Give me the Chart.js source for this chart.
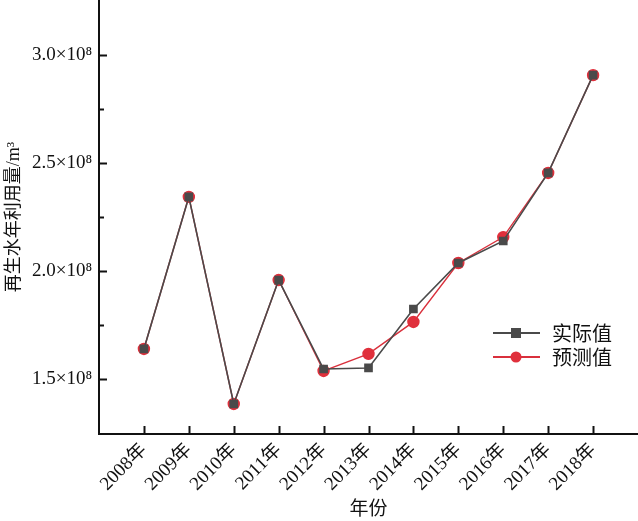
<!DOCTYPE html>
<html>
<head>
<meta charset="utf-8">
<script src="https://cdn.jsdelivr.net/npm/chart.js@4/dist/chart.umd.min.js"></script>
<style>
  html, body { margin: 0; padding: 0; background: #fff; }
  #wrap { width: 638px; height: 521px; }
</style>
</head>
<body>
<div id="wrap"><canvas id="chart" width="638" height="521"></canvas></div>
<script>
// years on the x axis
const years = [2008, 2009, 2010, 2011, 2012, 2013, 2014, 2015, 2016, 2017, 2018];
// values in units of 10^8 m3
const actual    = [1.639, 2.343, 1.384, 1.958, 1.546, 1.551, 1.824, 2.037, 2.139, 2.454, 2.907];
const predicted = [1.639, 2.343, 1.384, 1.958, 1.537, 1.616, 1.764, 2.037, 2.157, 2.454, 2.907];
const yTicks = [1.5, 1.75, 2.0, 2.25, 2.5, 2.75, 3.0];
const yMajor = [1.5, 2.0, 2.5, 3.0];

const FONT = '"Liberation Serif", "Noto Sans CJK SC", serif';

const toPoints = (arr) => arr.map((v, i) => ({ x: years[i], y: v * 1e8 }));

// ticks pointing into the plot
const innerTicks = {
  id: 'innerTicks',
  afterDatasetsDraw(chart) {
    const { ctx, chartArea, scales } = chart;
    ctx.save();
    ctx.strokeStyle = '#111';
    ctx.lineWidth = 2;
    years.forEach(yr => {
      const px = Math.round(scales.x.getPixelForValue(yr)) + 0.5;
      ctx.beginPath();
      ctx.moveTo(px, chartArea.bottom);
      ctx.lineTo(px, chartArea.bottom - 8);
      ctx.stroke();
    });
    yTicks.forEach(v => {
      const py = Math.round(scales.y.getPixelForValue(v * 1e8)) + 0.5;
      const len = yMajor.includes(v) ? 8 : 5;
      ctx.beginPath();
      ctx.moveTo(chartArea.left, py);
      ctx.lineTo(chartArea.left + len, py);
      ctx.stroke();
    });
    ctx.restore();
  }
};

// legend drawn inside the plot area
const innerLegend = {
  id: 'innerLegend',
  afterDraw(chart) {
    const { ctx } = chart;
    ctx.save();
    chart.data.datasets.forEach((ds, i) => {
      const y = 333 + i * 24;
      ctx.strokeStyle = ds.borderColor;
      ctx.lineWidth = 2;
      ctx.beginPath();
      ctx.moveTo(493, y);
      ctx.lineTo(540, y);
      ctx.stroke();
      ctx.fillStyle = ds.pointBackgroundColor;
      if (ds.pointStyle === 'rect') {
        ctx.fillRect(511, y - 5, 10, 10);
      } else {
        ctx.beginPath();
        ctx.arc(516, y, 5.5, 0, Math.PI * 2);
        ctx.fill();
      }
      ctx.fillStyle = '#111';
      ctx.font = '20px "Noto Sans CJK SC", serif';
      ctx.textBaseline = 'middle';
      ctx.fillText(ds.label, 552, y);
    });
    ctx.restore();
  }
};

new Chart(document.getElementById('chart'), {
  type: 'line',
  data: {
    datasets: [{
      label: '实际值',
      data: toPoints(actual),
      borderColor: '#4a4a4a',
      backgroundColor: '#4a4a4a',
      pointBackgroundColor: '#4a4a4a',
      pointBorderColor: '#4a4a4a',
      pointStyle: 'rect',
      pointRadius: 5,
      borderWidth: 1.6,
      tension: 0
    }, {
      label: '预测值',
      data: toPoints(predicted),
      borderColor: '#d9303c',
      backgroundColor: '#e0303c',
      pointBackgroundColor: '#e0303c',
      pointBorderColor: '#e0303c',
      pointStyle: 'circle',
      pointRadius: 5.5,
      borderWidth: 1.4,
      tension: 0
    }]
  },
  options: {
    responsive: false,
    animation: false,
    clip: false,
    layout: { autoPadding: false, padding: 0 },
    plugins: {
      legend: { display: false },
      tooltip: { enabled: false }
    },
    scales: {
      x: {
        type: 'linear',
        min: 2007,
        max: 2019,
        afterBuildTicks: (axis) => { axis.ticks = years.map(v => ({ value: v })); },
        afterFit: (axis) => {
          axis.height = 87;
          axis.paddingLeft = 0;
          axis.paddingRight = 0;
        },
        border: { display: true, color: '#111', width: 2 },
        grid: { display: false, drawTicks: false },
        ticks: {
          autoSkip: false,
          minRotation: 45,
          maxRotation: 45,
          padding: 5,
          color: '#111',
          font: { family: FONT, size: 19 },
          callback: (v) => v + '年'
        },
        title: {
          display: true,
          text: '年份',
          color: '#111',
          font: { family: FONT, size: 19 },
          padding: { top: 0, bottom: 0 }
        }
      },
      y: {
        type: 'linear',
        min: 1.245e8,
        max: 3.255e8,
        afterBuildTicks: (axis) => { axis.ticks = yTicks.map(v => ({ value: v * 1e8 })); },
        afterFit: (axis) => {
          axis.width = 99;
          axis.paddingTop = 0;
          axis.paddingBottom = 0;
        },
        border: { display: true, color: '#111', width: 2 },
        grid: { display: false, drawTicks: false },
        ticks: {
          autoSkip: false,
          padding: 7,
          color: '#111',
          font: { family: FONT, size: 19 },
          callback: (v) => {
            const n = v / 1e8;
            return yMajor.some(m => Math.abs(m - n) < 1e-6) ? n.toFixed(1) + '×10⁸' : '';
          }
        },
        title: {
          display: true,
          text: '再生水年利用量/m³',
          color: '#111',
          font: { family: FONT, size: 18 },
          padding: { top: 3, bottom: 0 }
        }
      }
    }
  },
  plugins: [innerTicks, innerLegend]
});
</script>
</body>
</html>
